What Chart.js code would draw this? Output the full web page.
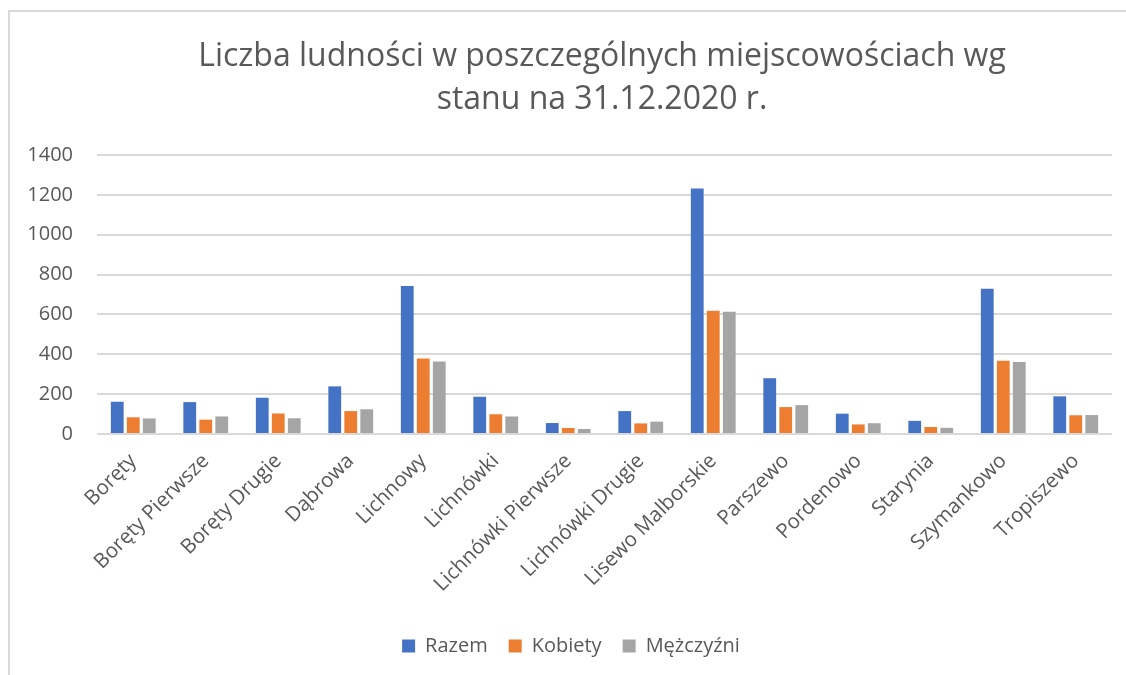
<!DOCTYPE html>
<html>
<head>
<meta charset="utf-8">
<script src="https://cdn.jsdelivr.net/npm/chart.js@4"></script>
<style>
  html, body { margin: 0; padding: 0; background: #fff; overflow: hidden; }
  #frame {
    position: absolute; left: 8px; top: 10px;
    width: 1200px; height: 700px;
    border-left: 2px solid #d9d9d9; border-top: 2px solid #d9d9d9;
  }
  #wrap { position: absolute; left: 0; top: 0; width: 1116px; height: 678px; }
</style>
</head>
<body>
<div id="frame">
  <div id="wrap"><canvas id="myChart"></canvas></div>
</div>
<script>
const places = [
  "Boręty", "Boręty Pierwsze", "Boręty Drugie", "Dąbrowa", "Lichnowy",
  "Lichnówki", "Lichnówki Pierwsze", "Lichnówki Drugie", "Lisewo Malborskie",
  "Parszewo", "Pordenowo", "Starynia", "Szymankowo", "Tropiszewo",
];
const razem = [162, 160, 182, 239, 743, 187, 55, 115, 1232, 280, 102, 66, 729, 189];
const kobiety = [84, 72, 103, 115, 379, 99, 30, 53, 618, 135, 48, 35, 368, 94];
const mezczyzni = [78, 88, 79, 124, 364, 88, 25, 62, 614, 145, 54, 31, 361, 95];
const yTicks = [0, 200, 400, 600, 800, 1000, 1200, 1400];

const textColor = "#595959";
const gridColor = "#d9d9d9";
const font = "'Open Sans'";

// excel had title and legend centred on different points, nudge them
const shiftBoxes = {
  id: "shiftBoxes",
  afterLayout(chart) {
    chart.titleBlock.left += 41;
    chart.titleBlock.right += 41;
    chart.legend.left += 10;
    chart.legend.right += 10;
  },
};

var data = {
  labels: places,
  datasets: [
    { label: "Razem", data: razem, backgroundColor: "#4472c4" },
    { label: "Kobiety", data: kobiety, backgroundColor: "#ed7d31" },
    { label: "Mężczyźni", data: mezczyzni, backgroundColor: "#a5a5a5" },
  ],
};

var ctx = document.getElementById("myChart").getContext("2d");
var chart = new Chart(ctx, {
  type: "bar",
  data: data,
  plugins: [shiftBoxes],
  options: {
    animation: false,
    responsive: true,
    maintainAspectRatio: false,
    layout: {
      padding: { left: 0, right: 14, top: 0, bottom: 24 },
    },
    datasets: {
      bar: {
        categoryPercentage: 0.662,
        barPercentage: 0.8,
      },
    },
    plugins: {
      title: {
        display: true,
        text: ["Liczba ludności w poszczególnych miejscowościach wg", "stanu na 31.12.2020 r."],
        color: textColor,
        font: { family: font, size: 32, weight: "normal", lineHeight: 1.344 },
        padding: { top: 23, bottom: 34 },
      },
      legend: {
        position: "bottom",
        labels: {
          boxWidth: 13,
          boxHeight: 13,
          padding: 21,
          color: textColor,
          font: { family: font, size: 20 },
        },
      },
      tooltip: { enabled: false },
    },
    scales: {
      x: {
        grid: { display: false },
        border: { display: false },
        ticks: {
          color: textColor,
          font: { family: font, size: 20.5 },
          minRotation: 45,
          maxRotation: 45,
          padding: 7,
          autoSkip: false,
        },
        afterFit(scale) {
          scale.height = 181;
        },
      },
      y: {
        min: 0,
        max: 1400,
        grid: { color: gridColor, lineWidth: 2, drawTicks: false },
        border: { display: false },
        afterBuildTicks(scale) {
          scale.ticks = yTicks.map((v) => ({ value: v }));
        },
        ticks: {
          color: textColor,
          font: { family: font, size: 20 },
          padding: 24,
          callback: (v) => String(v),
        },
        afterFit(scale) {
          scale.width = 87;
        },
      },
    },
  },
});
</script>
</body>
</html>
